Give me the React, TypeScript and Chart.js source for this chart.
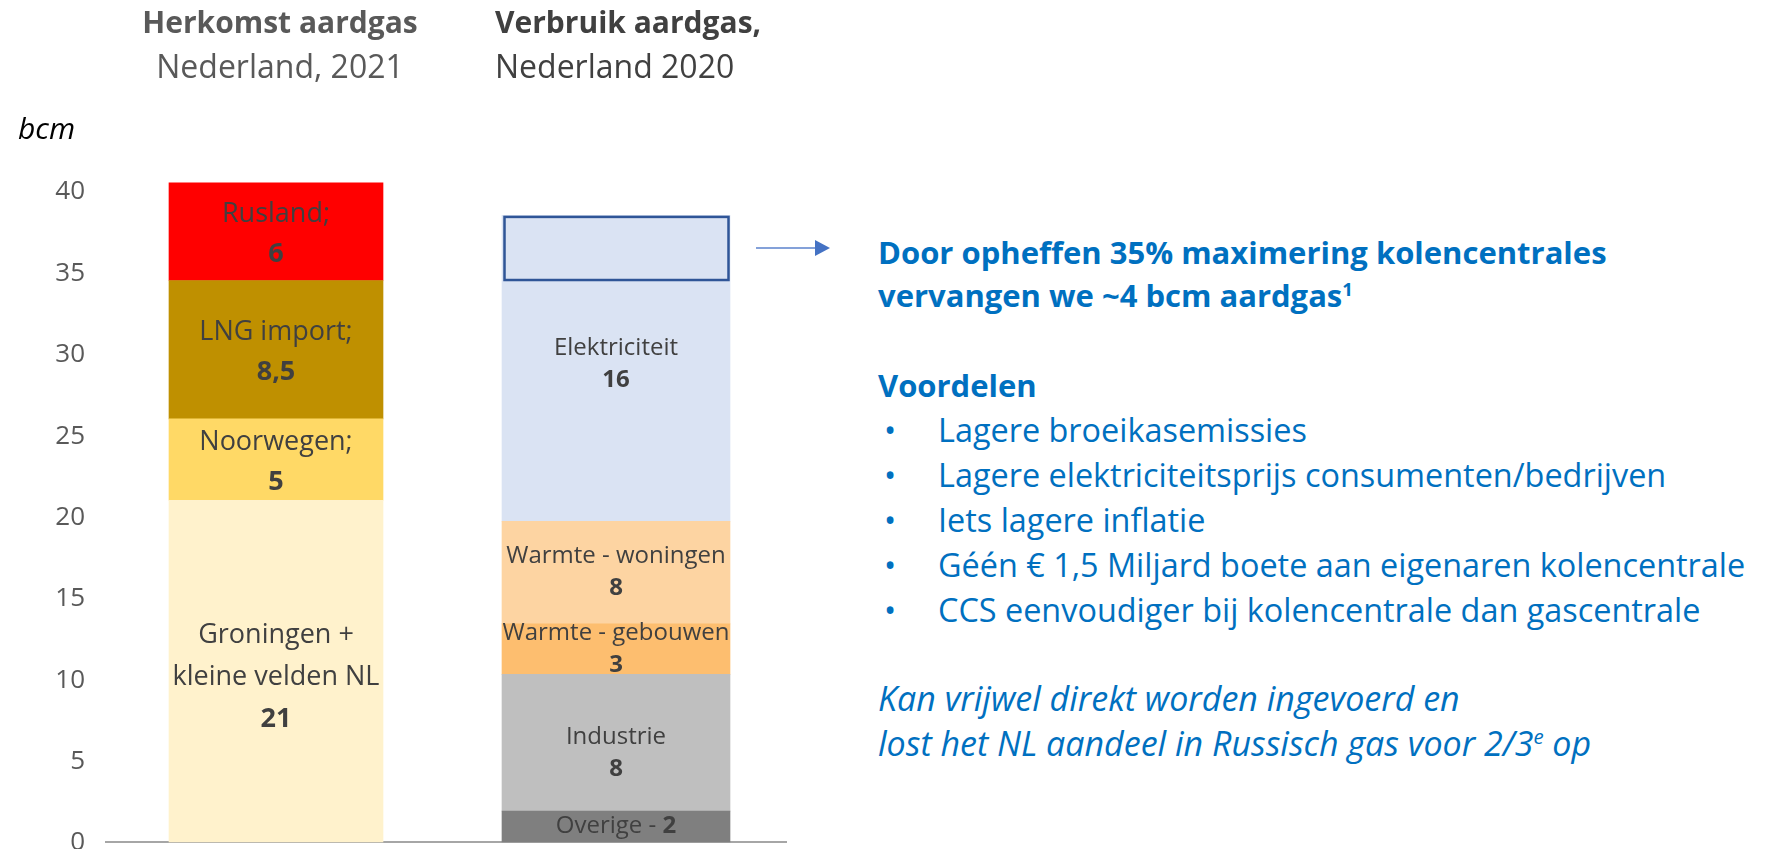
import React, { useEffect, useRef } from "react";
import { Chart, registerables } from "chart.js";

Chart.register(...registerables);

const FONT = "'Open Sans', sans-serif";

// categories (two stacked columns)
const categories = ["Herkomst aardgas, Nederland 2021", "Verbruik aardgas, Nederland 2020"];

// column 1 – origin of natural gas (bottom → top), bcm
const originNames: string[][] = [["Groningen +", "kleine velden NL"], ["Noorwegen;"], ["LNG import;"], ["Rusland;"]];
const originValues = [21, 5, 8.5, 6];
const originLabels = ["21", "5", "8,5", "6"];
const originColors = ["#fff2cc", "#ffd966", "#bf9000", "#ff0000"];

// column 2 – use of natural gas (bottom → top), bcm
const useNames: string[] = ["Overige - ", "Industrie", "Warmte - gebouwen", "Warmte - woningen", "Elektriciteit"];
const useValues = [1.9, 8.4, 3.1, 6.3, 18.8];
const useLabels = ["2", "8", "3", "8", "16"];
const useColors = ["#7f7f7f", "#bfbfbf", "#fdbe6f", "#fdd4a2", "#dae3f3"];

// gas replaced by lifting the coal-plant cap (outlined at the top of Elektriciteit)
const replacedGas = 4;

// y axis
const yMin = 0;
const yMax = 40;
const yStep = 5;

const BLUE = "#0070c0";

function topFor(baseline: number, size: number, lh: number) {
  return baseline - ((lh - 1.362 * size) / 2 + 1.069 * size);
}

const labelPlugin = {
  id: "segLabels",
  afterDatasetsDraw(chart: any) {
    const ctx = chart.ctx;
    const datasets = chart.data.datasets;
    datasets.forEach((ds: any, di: number) => {
      const meta = chart.getDatasetMeta(di);
      const idx = ds.data.findIndex((v: any) => v !== null && v !== undefined);
      const el = meta.data[idx];
      if (!el) return;
      const mid = (el.y + el.base) / 2 + (ds._dy || 0);
      const x = el.x;
      const size = ds._size;
      ctx.save();
      ctx.beginPath();
      ctx.rect(x - el.width / 2, 0, el.width, chart.height);
      ctx.clip();
      ctx.fillStyle = "#404040";
      ctx.textBaseline = "middle";
      if (ds._inline) {
        ctx.font = `${size}px ${FONT}`;
        const w1 = ctx.measureText(ds._lines[0]).width;
        ctx.font = `bold ${size}px ${FONT}`;
        const w2 = ctx.measureText(ds._num).width;
        const x0 = x - (w1 + w2) / 2;
        ctx.textAlign = "left";
        ctx.font = `${size}px ${FONT}`;
        ctx.fillText(ds._lines[0], x0, mid);
        ctx.font = `bold ${size}px ${FONT}`;
        ctx.fillText(ds._num, x0 + w1, mid);
      } else {
        const lines: string[] = ds._lines;
        const n = lines.length + 1;
        const lh = ds._lh;
        const start = mid - ((n - 1) * lh) / 2;
        ctx.textAlign = "center";
        lines.forEach((t: string, i: number) => {
          ctx.font = `${size}px ${FONT}`;
          ctx.fillText(t, x, start + i * lh);
        });
        ctx.font = `bold ${size}px ${FONT}`;
        ctx.fillText(ds._num, x, start + lines.length * lh);
      }
      ctx.restore();
    });

    // outlined replaced-gas box + arrow
    const elecIndex = datasets.length - 1;
    const meta = chart.getDatasetMeta(elecIndex);
    const el = meta.data[1];
    if (el) {
      const yScale = chart.scales.y;
      const total = useValues.reduce((a, b) => a + b, 0);
      const top = yScale.getPixelForValue(total);
      const bottom = yScale.getPixelForValue(total - replacedGas);
      const left = el.x - el.width / 2;
      ctx.save();
      ctx.strokeStyle = "#2f5597";
      ctx.lineWidth = 2.5;
      ctx.strokeRect(left + 2.5, top + 1.5, el.width - 4, bottom - top - 2);
      const ay = (top + bottom) / 2;
      const ax0 = left + el.width + 26;
      const ax1 = ax0 + 74;
      ctx.strokeStyle = "#5b82cc";
      ctx.lineWidth = 1.5;
      ctx.beginPath();
      ctx.moveTo(ax0, ay);
      ctx.lineTo(ax1 - 14, ay);
      ctx.stroke();
      ctx.fillStyle = "#4472c4";
      ctx.beginPath();
      ctx.moveTo(ax1 - 15, ay - 8);
      ctx.lineTo(ax1, ay);
      ctx.lineTo(ax1 - 15, ay + 8);
      ctx.closePath();
      ctx.fill();
      ctx.restore();
    }
  },
};

export default function App() {
  const canvasRef = useRef<HTMLCanvasElement | null>(null);

  useEffect(() => {
    if (!canvasRef.current) return;
    const datasets: any[] = [];
    originValues.forEach((v, i) => {
      datasets.push({
        label: originNames[i].join(" "),
        data: [v, null],
        backgroundColor: originColors[i],
        barThickness: 214,
        stack: "s",
        clip: false,
        borderWidth: 0,
        _lines: originNames[i],
        _num: originLabels[i],
        _size: 27,
        _lh: originNames[i].length > 1 ? 42 : 40,
        _dy: originNames[i].length > 1 ? 6 : 3,
      });
    });
    useValues.forEach((v, i) => {
      datasets.push({
        label: useNames[i],
        data: [null, v],
        backgroundColor: useColors[i],
        barThickness: 228,
        stack: "s",
        clip: false,
        borderWidth: 0,
        _lines: [useNames[i]],
        _num: useLabels[i],
        _size: 24,
        _lh: 32,
        _inline: i === 0,
        _dy: i === 1 ? 10 : i === 4 ? -4 : 0,
      });
    });

    const chart = new Chart(canvasRef.current, {
      type: "bar",
      data: { labels: categories, datasets },
      options: {
        animation: false,
        responsive: false,
        maintainAspectRatio: false,
        devicePixelRatio: 1,
        layout: { padding: { left: 0, top: 191, right: 74, bottom: 7 } },
        plugins: { legend: { display: false }, tooltip: { enabled: false } },
        scales: {
          x: {
            type: "category",
            stacked: true,
            grid: { display: false, drawTicks: false },
            ticks: { display: false },
            border: { display: true, color: "#a6a6a6", width: 2 },
            afterFit: (s: any) => {
              s.height = 0;
              s.paddingLeft = 0;
              s.paddingRight = 0;
            },
          },
          y: {
            stacked: true,
            min: yMin,
            max: yMax,
            ticks: {
              stepSize: yStep,
              color: "#595959",
              font: { family: FONT, size: 26 },
              padding: 21,
              labelOffset: 1,
            },
            grid: { display: false, drawTicks: false },
            border: { display: false },
            afterFit: (s: any) => {
              s.width = 106;
              s.paddingTop = 0;
              s.paddingBottom = 0;
            },
          },
        },
      } as any,
      plugins: [labelPlugin],
    });
    return () => chart.destroy();
  }, []);

  const bold = 31;
  const reg = 32.4;
  const ital = 34;
  const lh = 45;

  const line = (baseline: number, size: number, style: any, content: any, left = 878) => (
    <div
      style={{
        position: "absolute",
        left,
        top: topFor(baseline, size, lh),
        fontSize: size,
        lineHeight: `${lh}px`,
        whiteSpace: "nowrap",
        color: BLUE,
        ...style,
      }}
    >
      {content}
    </div>
  );

  const bullets = [
    "Lagere broeikasemissies",
    "Lagere elektriciteitsprijs consumenten/bedrijven",
    "Iets lagere inflatie",
    "Géén € 1,5 Miljard boete aan eigenaren kolencentrale",
    "CCS eenvoudiger bij kolencentrale dan gascentrale",
  ];

  return (
    <div
      style={{
        position: "absolute",
        left: 0,
        top: 0,
        width: 1774,
        height: 849,
        overflow: "hidden",
        background: "#ffffff",
        fontFamily: FONT,
      }}
    >
      <canvas
        ref={canvasRef}
        width={860}
        height={849}
        style={{ position: "absolute", left: 0, top: 0, width: 860, height: 849 }}
      />
      {/* column titles */}
      <div
        style={{
          position: "absolute",
          left: 80,
          width: 400,
          textAlign: "center",
          top: topFor(33, 30, lh),
          fontSize: 30,
          fontWeight: 700,
          lineHeight: `${lh}px`,
          color: "#595959",
        }}
      >
        Herkomst aardgas
      </div>
      <div
        style={{
          position: "absolute",
          left: 80,
          width: 400,
          textAlign: "center",
          top: topFor(78, 32, lh),
          fontSize: 32,
          lineHeight: `${lh}px`,
          color: "#595959",
        }}
      >
        Nederland, 2021
      </div>
      <div
        style={{
          position: "absolute",
          left: 495,
          top: topFor(33, 30, lh),
          fontSize: 30,
          fontWeight: 700,
          lineHeight: `${lh}px`,
          color: "#404040",
          whiteSpace: "nowrap",
        }}
      >
        Verbruik aardgas,
      </div>
      <div
        style={{
          position: "absolute",
          left: 495,
          top: topFor(78, 32, lh),
          fontSize: 32,
          lineHeight: `${lh}px`,
          color: "#404040",
          whiteSpace: "nowrap",
        }}
      >
        Nederland 2020
      </div>
      {/* unit */}
      <div
        style={{
          position: "absolute",
          left: 18,
          top: topFor(140, 30, 40),
          fontSize: 30,
          lineHeight: "40px",
          fontStyle: "italic",
          color: "#000000",
        }}
      >
        bcm
      </div>

      {/* right-hand text */}
      {line(265, bold, { fontWeight: 700 }, "Door opheffen 35% maximering kolencentrales")}
      {line(308, bold, { fontWeight: 700 }, (
        <span>
          vervangen we ~4 bcm aardgas<sup style={{ fontSize: "0.6em", verticalAlign: "0.6em", lineHeight: 0 }}>1</sup>
        </span>
      ))}
      {line(398, bold, { fontWeight: 700 }, "Voordelen")}
      {bullets.map((b, i) => (
        <React.Fragment key={i}>
          {line(442 + i * 45, reg, {}, "•", 884)}
          {line(442 + i * 45, reg, {}, b, 938)}
        </React.Fragment>
      ))}
      {line(712, ital, { fontStyle: "italic" }, "Kan vrijwel direkt worden ingevoerd en")}
      {line(757, ital, { fontStyle: "italic" }, (
        <span>
          lost het NL aandeel in Russisch gas voor 2/3<sup style={{ fontSize: "0.6em", verticalAlign: "0.6em", lineHeight: 0 }}>e</sup> op
        </span>
      ))}
    </div>
  );
}
